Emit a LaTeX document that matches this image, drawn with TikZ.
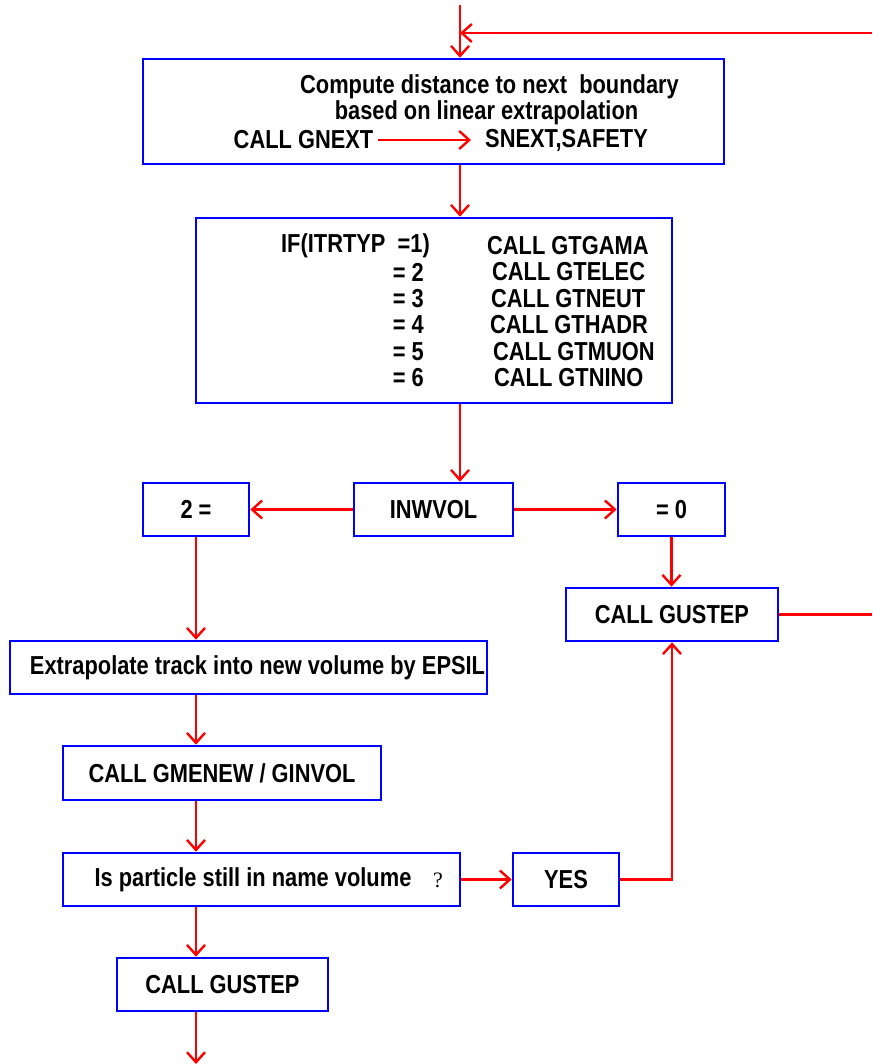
\documentclass[tikz,border=0pt]{standalone}
\usepackage{fontspec}
\setmainfont[FakeStretch=0.84]{Liberation Sans}
\newfontfamily\qfont{Liberation Serif}
\usetikzlibrary{
    arrows.meta,
    positioning
}
\definecolor{BoxBlue}{RGB}{0,0,255}
\definecolor{FlowRed}{RGB}{255,0,0}

\begin{document}
\begin{tikzpicture}[
    x=1pt, y=-1pt,
    >={Straight Barb[length=10pt,width=18pt]},
    box/.style={draw=BoxBlue, line width=2.6pt, inner sep=0pt,
        font=\bfseries\fontsize{26}{30}\selectfont},
    txt/.style={inner sep=0pt, font=\bfseries\fontsize{26}{30}\selectfont},
    flow/.style={->, FlowRed, line width=2.4pt}
]

\useasboundingbox (0,0) rectangle (872,1064);

% Boxes
\node[box, minimum width=581pt, minimum height=105pt] (compute) at (433.5,111.5) {};
\node[box, minimum width=476pt, minimum height=185pt] (ittype) at (434,310.5) {};
\node[box, minimum width=159pt, minimum height=53pt] (inwvol) at (433.5,509.5) {INWVOL};
\node[box, minimum width=106pt, minimum height=53pt] (two) at (196,509.5) {2 =};
\node[box, minimum width=107pt, minimum height=53pt] (zero) at (671.5,509.5) {= 0};
\node[box, minimum width=212pt, minimum height=53pt] (gustepr) at (672,614.5) {CALL GUSTEP};
\node[box, minimum width=477pt, minimum height=53pt] (extrap) at (248.5,667.5) {};
\node[box, minimum width=318pt, minimum height=54pt] (gmenew) at (222,773) {CALL GMENEW / GINVOL};
\node[box, minimum width=397pt, minimum height=53pt] (still) at (261.5,879.5) {};
\node[box, minimum width=106pt, minimum height=53pt] (yes) at (566,879.5) {YES};
\node[box, minimum width=211pt, minimum height=53pt] (gustepb) at (222.5,984.5) {CALL GUSTEP};

% Texts in the boxes
\node[txt] (line1) at (489.5,87) {Compute distance to next\ \ boundary};
\node[txt] (line2) at (486.5,113) {based on linear extrapolation};
\node[txt] (gnext) at (303.5,140) {CALL GNEXT};
\node[txt] (snext) at (566.5,140) {SNEXT,SAFETY};
\draw[flow] ([xshift=5pt]gnext.east) -- ([xshift=-14pt]snext.west);

\node[txt, anchor=east] (if1) at (430,246) {IF(ITRTYP\ \ =1)};
\node[txt, anchor=east] (if2) at (424,272) {= 2};
\node[txt, anchor=east] (if3) at (424,299) {= 3};
\node[txt, anchor=east] (if4) at (424,325) {= 4};
\node[txt, anchor=east] (if5) at (424,352) {= 5};
\node[txt, anchor=east] (if6) at (424,378) {= 6};
\node[txt, anchor=west] (call1) at (487,246) {CALL GTGAMA};
\node[txt, anchor=west] (call2) at (492,272) {CALL GTELEC};
\node[txt, anchor=west] (call3) at (491,299) {CALL GTNEUT};
\node[txt, anchor=west] (call4) at (490,325) {CALL GTHADR};
\node[txt, anchor=west] (call5) at (493,352) {CALL GTMUON};
\node[txt, anchor=west] (call6) at (494,378) {CALL GTNINO};

\node[txt] (extraptxt) at (257.5,668) {Extrapolate track into new volume by EPSIL};
\node[txt] (stilltxt) at (253,880) {Is particle still in name volume};
\node[inner sep=0pt, font=\qfont\fontsize{22}{26}\selectfont] (stillq) at (438,880) {?};

% Free ends
\coordinate (topin) at (460,5);
\coordinate (loopin) at (872,33);
\coordinate (loopout) at (872,614.5);
\coordinate (exitb) at (196,1064);

% Connectors
\draw[flow] (topin) -- (topin |- compute.north);
\draw[flow] (loopin) -- (topin |- loopin);
\draw[flow] (topin |- compute.south) -- (topin |- ittype.north);
\draw[flow] (topin |- ittype.south) -- (topin |- inwvol.north);
\draw[flow] (inwvol.west) -- (two.east);
\draw[flow] (inwvol.east) -- (zero.west);
\draw[flow] (zero.south) -- (zero.south |- gustepr.north);
\draw[FlowRed, line width=2.4pt] (gustepr.east) -- (loopout);
\draw[flow] (two.south) -- (two.south |- extrap.north);
\draw[flow] (two.south |- extrap.south) -- (two.south |- gmenew.north);
\draw[flow] (two.south |- gmenew.south) -- (two.south |- still.north);
\draw[flow] (still.east) -- (yes.west);
\draw[flow] (yes.east) -| (gustepr.south);
\draw[flow] (two.south |- still.south) -- (two.south |- gustepb.north);
\draw[flow] (two.south |- gustepb.south) -- (exitb);

\end{tikzpicture}
\end{document}
